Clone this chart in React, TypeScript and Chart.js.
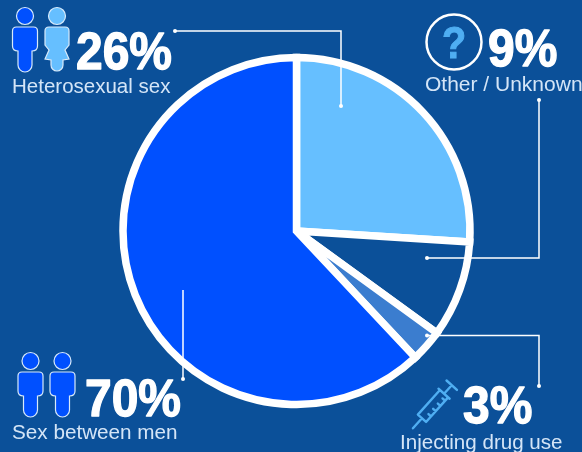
import React, { useEffect, useRef } from "react";
import { Chart, registerables } from "chart.js";

Chart.register(...registerables);

const categories = ["Heterosexual sex", "Other / Unknown", "Injecting drug use", "Sex between men"];
const sliceValues = [26, 9, 3, 62];
const percentLabels = ["26%", "9%", "3%", "70%"];
const sliceColors = ["#66BFFF", "#0B5099", "#3B7DCF", "#0050FF"];

const BG = "#0B5099";
const WHITE = "#FFFFFF";
const SKY = "#66BFFF";
const ROYAL = "#0050FF";
const ICON = "#4FAEF2";

function person(ctx: CanvasRenderingContext2D, x: number, fill: string, female: boolean, top: number) {
  ctx.save();
  ctx.translate(x, top);
  ctx.fillStyle = fill;
  ctx.strokeStyle = "#D8EAFA";
  ctx.lineWidth = 1.2;
  ctx.beginPath();
  ctx.arc(0, 0, 8.5, 0, Math.PI * 2);
  ctx.fill();
  ctx.stroke();
  ctx.beginPath();
  if (female) {
    ctx.moveTo(-12, 15);
    ctx.quadraticCurveTo(-12, 11, -8, 11);
    ctx.lineTo(8, 11);
    ctx.quadraticCurveTo(12, 11, 12, 15);
    ctx.lineTo(12, 29);
    ctx.lineTo(8, 34);
    ctx.lineTo(12, 43);
    ctx.lineTo(6, 44);
    ctx.lineTo(6, 49);
    ctx.arc(0, 49, 6, 0, Math.PI);
    ctx.lineTo(-6, 44);
    ctx.lineTo(-12, 43);
    ctx.lineTo(-8, 34);
    ctx.lineTo(-12, 29);
  } else {
    ctx.moveTo(-12.5, 15);
    ctx.quadraticCurveTo(-12.5, 11, -8.5, 11);
    ctx.lineTo(8.5, 11);
    ctx.quadraticCurveTo(12.5, 11, 12.5, 15);
    ctx.lineTo(12.5, 30);
    ctx.quadraticCurveTo(12.5, 35, 7, 35);
    ctx.lineTo(7, 49);
    ctx.arc(0, 49, 7, 0, Math.PI);
    ctx.lineTo(-7, 35);
    ctx.quadraticCurveTo(-12.5, 35, -12.5, 30);
  }
  ctx.closePath();
  ctx.fill();
  ctx.stroke();
  ctx.restore();
}

function leader(ctx: CanvasRenderingContext2D, pts: number[][], startDot = true) {
  ctx.save();
  ctx.strokeStyle = WHITE;
  ctx.fillStyle = WHITE;
  ctx.lineWidth = 1.5;
  ctx.beginPath();
  pts.forEach((p, i) => (i ? ctx.lineTo(p[0], p[1]) : ctx.moveTo(p[0], p[1])));
  ctx.stroke();
  (startDot ? [pts[0], pts[pts.length - 1]] : [pts[pts.length - 1]]).forEach((p) => {
    ctx.beginPath();
    ctx.arc(p[0], p[1], 2, 0, Math.PI * 2);
    ctx.fill();
  });
  ctx.restore();
}

function syringe(ctx: CanvasRenderingContext2D) {
  ctx.save();
  ctx.translate(433, 406);
  ctx.rotate((-48 * Math.PI) / 180);
  ctx.strokeStyle = ICON;
  ctx.lineWidth = 2.4;
  ctx.lineCap = "round";
  ctx.lineJoin = "round";
  ctx.beginPath();
  ctx.moveTo(-30, 0);
  ctx.lineTo(-16.5, 0);
  ctx.moveTo(-16.5, -5.5);
  ctx.lineTo(16.5, -5.5);
  ctx.moveTo(16.5, 5.5);
  ctx.lineTo(-16.5, 5.5);
  ctx.lineTo(-16.5, -5.5);
  ctx.moveTo(16.5, -7.5);
  ctx.lineTo(16.5, 7.5);
  ctx.moveTo(16.5, 0);
  ctx.lineTo(28, 0);
  ctx.moveTo(28, -7);
  ctx.lineTo(28, 7);
  ctx.moveTo(-9, 5.5);
  ctx.lineTo(-9, 2);
  ctx.moveTo(-2, 5.5);
  ctx.lineTo(-2, 2);
  ctx.moveTo(5, 5.5);
  ctx.lineTo(5, 2);
  ctx.moveTo(12, 5.5);
  ctx.lineTo(12, 2);
  ctx.stroke();
  ctx.restore();
}

function text(ctx: CanvasRenderingContext2D, s: string, x: number, y: number, font: string, color: string) {
  ctx.font = font;
  ctx.fillStyle = color;
  ctx.textAlign = "left";
  ctx.textBaseline = "alphabetic";
  ctx.fillText(s, x, y);
}

function bigText(ctx: CanvasRenderingContext2D, s: string, x: number, y: number) {
  ctx.save();
  ctx.translate(x, y);
  ctx.scale(0.94, 1);
  ctx.font = "bold 51px 'Liberation Sans'";
  ctx.fillStyle = WHITE;
  ctx.strokeStyle = WHITE;
  ctx.lineWidth = 1.3;
  ctx.lineJoin = "round";
  ctx.textAlign = "left";
  ctx.textBaseline = "alphabetic";
  ctx.strokeText(s, 0, 0);
  ctx.fillText(s, 0, 0);
  ctx.restore();
}

const overlay = {
  id: "overlay",
  afterDraw(chart: Chart) {
    const ctx = chart.ctx;
    leader(ctx, [[175, 31], [341, 31], [341, 106]]);
    leader(ctx, [[539, 100], [539, 258], [427, 258]]);
    leader(ctx, [[427, 335.5], [539, 335.5], [539, 386]]);
    leader(ctx, [[183, 290], [183, 379]], false);

    person(ctx, 25, ROYAL, false, 16);
    person(ctx, 57, SKY, true, 16);
    person(ctx, 30.5, ROYAL, false, 361);
    person(ctx, 62.5, ROYAL, false, 361);

    ctx.save();
    ctx.strokeStyle = WHITE;
    ctx.lineWidth = 2.5;
    ctx.beginPath();
    ctx.arc(454, 42, 27.5, 0, Math.PI * 2);
    ctx.stroke();
    ctx.restore();

    ctx.save();
    ctx.translate(442, 58);
    ctx.scale(0.9, 1);
    ctx.font = "bold 44px 'Liberation Sans'";
    ctx.fillStyle = ICON;
    ctx.strokeStyle = ICON;
    ctx.lineWidth = 1;
    ctx.textBaseline = "alphabetic";
    ctx.strokeText("?", 0, 0);
    ctx.fillText("?", 0, 0);
    ctx.restore();

    syringe(ctx);

    bigText(ctx, percentLabels[0], 76, 69);
    bigText(ctx, percentLabels[1], 488, 66);
    bigText(ctx, percentLabels[2], 463, 423);
    bigText(ctx, percentLabels[3], 85, 416);

    const pale = "#D4E5F7";
    text(ctx, categories[0], 12, 93, "20.5px 'Liberation Sans'", pale);
    text(ctx, categories[1], 425, 91, "21px 'Liberation Sans'", pale);
    text(ctx, categories[2], 400, 449, "20.6px 'Liberation Sans'", pale);
    text(ctx, categories[3], 12, 439, "20.7px 'Liberation Sans'", pale);
  },
};

export default function App() {
  const ref = useRef<HTMLCanvasElement>(null);
  useEffect(() => {
    document.body.style.margin = "0";
    document.body.style.background = BG;
    const chart = new Chart(ref.current!, {
      type: "pie",
      data: {
        labels: categories,
        datasets: [
          {
            data: sliceValues,
            backgroundColor: sliceColors,
            borderColor: WHITE,
            borderWidth: 7.5,
            borderJoinStyle: "miter",
            hoverOffset: 0,
          },
        ],
      },
      options: {
        responsive: false,
        animation: false,
        radius: 173.5,
        layout: { padding: { left: 11, top: 10 } },
        plugins: { legend: { display: false }, tooltip: { enabled: false } },
      },
      plugins: [overlay],
    });
    return () => chart.destroy();
  }, []);
  return <canvas ref={ref} width={582} height={452} style={{ display: "block", background: BG }} />;
}
